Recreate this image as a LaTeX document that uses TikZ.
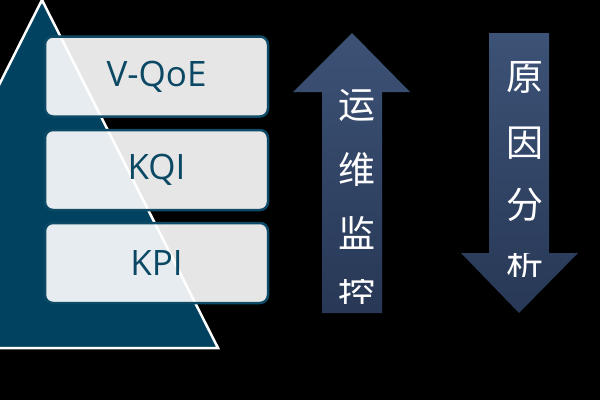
\documentclass[tikz,border=0pt]{standalone}
\usepackage{fontspec}
\setmainfont{Open Sans}
\newfontfamily\cjk{Noto Sans CJK SC}
\definecolor{tri}{RGB}{0,66,96}
\definecolor{boxline}{RGB}{14,74,102}
\definecolor{txt}{RGB}{10,72,100}
\definecolor{arrtop}{RGB}{60,82,118}
\definecolor{arrbot}{RGB}{40,56,86}
\tikzset{
  levelbox/.style={draw=boxline, line width=2.5pt, fill=white, fill opacity=0.9,
    text opacity=1, rounded corners=8pt, minimum width=223pt, minimum height=80pt,
    inner sep=0pt, text=txt, font=\fontsize{35}{40}\selectfont},
  arrowbody/.style={top color=arrtop, bottom color=arrbot},
  cjkchar/.style={text=white, inner sep=0pt, font=\cjk\fontsize{37}{40}\selectfont}
}
\begin{document}
\begin{tikzpicture}[x=1pt,y=-1pt]
\fill[black] (0,0) rectangle (600,400);
\useasboundingbox (0,0) rectangle (600,400);
\clip (0,0) rectangle (600,400);
% pyramid
\draw[fill=tri, draw=white, line width=2.5pt] (42,0) -- (218,348) -- (-134,348) -- cycle;
% level boxes
\node[levelbox] (qoe) at (156.5,76.5) {V-QoE};
\node[levelbox] (kqi) at (156.5,170) {KQI};
\node[levelbox] (kpi) at (156.5,263) {KPI};
% up arrow
\path[arrowbody] (352,33) -- (410,92) -- (382,92) -- (382,313) -- (322,313) -- (322,92) -- (293,92) -- cycle;
\node[cjkchar] (u1) at (357,106) {运};
\node[cjkchar] (u2) at (357,169) {维};
\node[cjkchar] (u3) at (357,233) {监};
\begin{scope}
\clip (320,279) rectangle (390,303);
\node[cjkchar] (u4) at (357,293) {控};
\end{scope}
% down arrow
\path[arrowbody] (489,33) -- (549,33) -- (549,253) -- (578,253) -- (519,313) -- (461,253) -- (489,253) -- cycle;
\node[cjkchar] (d1) at (525,77) {原};
\node[cjkchar] (d2) at (525,143) {因};
\node[cjkchar] (d3) at (525,205) {分};
\begin{scope}
\clip (470,253) rectangle (580,276);
\node[cjkchar] (d4) at (525,265) {析};
\end{scope}
\end{tikzpicture}
\end{document}
